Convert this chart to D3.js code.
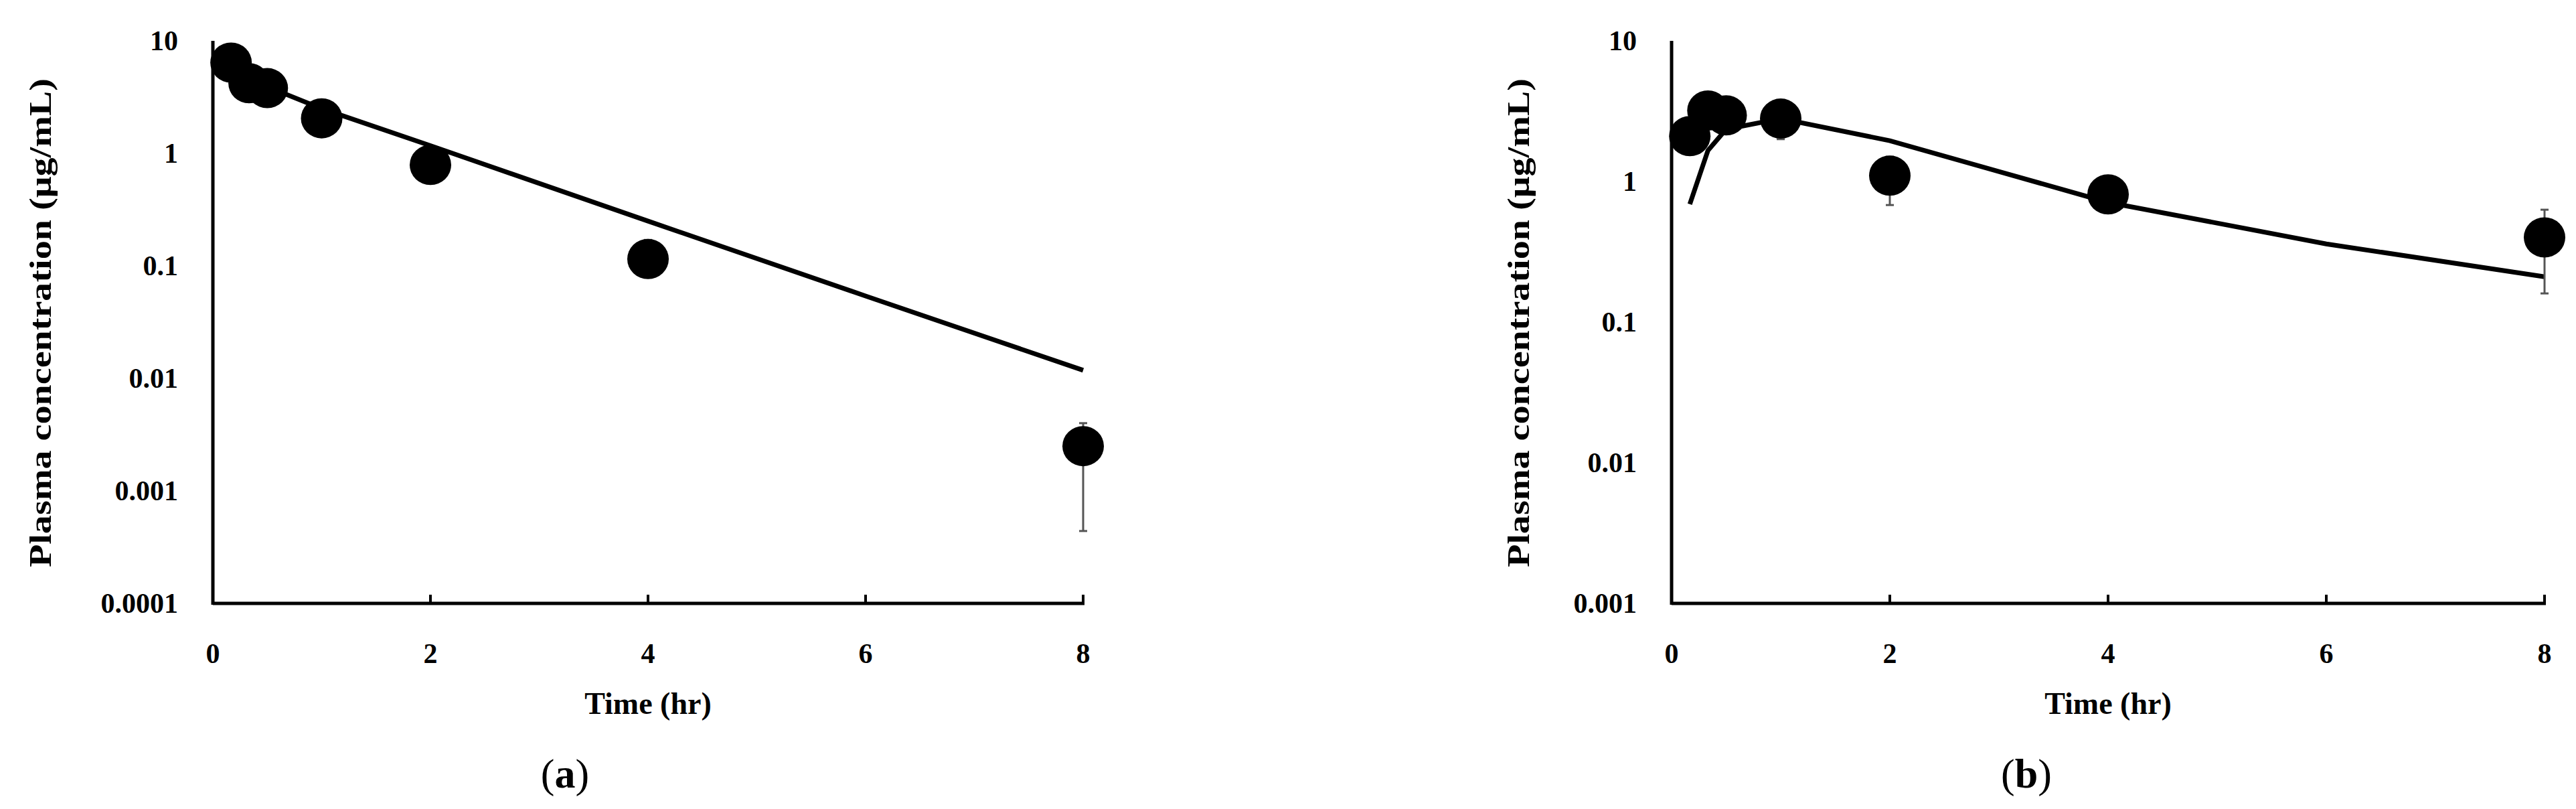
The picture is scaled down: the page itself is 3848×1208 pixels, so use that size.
<!DOCTYPE html>
<html>
<head>
<meta charset="utf-8">
<script src="https://cdn.jsdelivr.net/npm/d3@7"></script>
<style>
  body { margin: 0; background: #fff; }
  text { font-family: "Liberation Serif", "DejaVu Serif", serif; }
</style>
</head>
<body>
<div id="chart"></div>
<script>
// Panel (a) observed data
const timesA = [0.167, 0.333, 0.5, 1, 2, 4, 8];
const concA = [6.4, 4.2, 3.8, 2.05, 0.79, 0.115, 0.0025];
const errLowA = [6.0, 3.9, 3.5, 1.9, 0.72, 0.1, 0.00044];
const errHighA = [6.9, 4.5, 4.1, 2.2, 0.86, 0.17, 0.004];
// Panel (a) model line
const modelTimesA = [0.1, 1, 2, 4, 6, 8];
const modelConcA = [5.6, 2.5, 1.17, 0.25, 0.054, 0.0118];

// Panel (b) observed data
const timesB = [0.167, 0.333, 0.5, 1, 2, 4, 8];
const concB = [2.1, 3.2, 2.95, 2.8, 1.1, 0.81, 0.40];
const errLowB = [1.6, 2.9, 2.7, 2.0, 0.68, 0.75, 0.16];
const errHighB = [2.5, 3.5, 3.2, 3.6, 1.5, 0.88, 0.63];
// Panel (b) model line
const modelTimesB = [0.167, 0.333, 0.5, 1, 2, 4, 6, 8];
const modelConcB = [0.69, 1.66, 2.35, 2.8, 1.95, 0.71, 0.36, 0.21];

const xTicks = [0, 2, 4, 6, 8];
const yTicksA = [0.0001, 0.001, 0.01, 0.1, 1, 10];
const yTicksB = [0.001, 0.01, 0.1, 1, 10];

const svg = d3.select("#chart").append("svg")
  .attr("width", 3848).attr("height", 1208);

function panel(cfg) {
  const x = d3.scaleLinear().domain([0, 8]).range([cfg.left, cfg.right]);
  const y = d3.scaleLog().domain([cfg.yMin, 10]).range([901, 61]);
  const g = svg.append("g");

  // Model line
  const line = d3.line().x(d => x(d[0])).y(d => y(d[1]));
  g.append("path")
    .datum(d3.zip(cfg.modelT, cfg.modelC))
    .attr("d", line)
    .attr("fill", "none")
    .attr("stroke", "#000")
    .attr("stroke-width", 7);

  // Error bars
  const obs = cfg.t.map((t, i) => ({t, c: cfg.c[i], lo: cfg.lo[i], hi: cfg.hi[i]}));
  g.selectAll(".err").data(obs).enter().append("line")
    .attr("x1", d => x(d.t)).attr("x2", d => x(d.t))
    .attr("y1", d => y(d.lo)).attr("y2", d => y(d.hi))
    .attr("stroke", "#555").attr("stroke-width", 3);
  ["lo", "hi"].forEach(k => {
    g.selectAll(".cap" + k).data(obs).enter().append("line")
      .attr("x1", d => x(d.t) - 6).attr("x2", d => x(d.t) + 6)
      .attr("y1", d => y(d[k])).attr("y2", d => y(d[k]))
      .attr("stroke", "#555").attr("stroke-width", 3);
  });

  // Points
  g.selectAll(".pt").data(obs).enter().append("ellipse")
    .attr("cx", d => x(d.t)).attr("cy", d => y(d.c))
    .attr("rx", 31).attr("ry", 30)
    .attr("fill", "#000");

  // Axes
  g.append("line")
    .attr("x1", cfg.left).attr("x2", cfg.left)
    .attr("y1", 61).attr("y2", 903)
    .attr("stroke", "#000").attr("stroke-width", 5);
  g.append("line")
    .attr("x1", cfg.left).attr("x2", cfg.right + 2)
    .attr("y1", 901).attr("y2", 901)
    .attr("stroke", "#000").attr("stroke-width", 5);
  g.selectAll(".xt").data(xTicks.slice(1)).enter().append("line")
    .attr("x1", d => x(d)).attr("x2", d => x(d))
    .attr("y1", 888).attr("y2", 903)
    .attr("stroke", "#000").attr("stroke-width", 4);

  g.selectAll(".xl").data(xTicks).enter().append("text")
    .attr("x", d => x(d)).attr("y", 990)
    .attr("text-anchor", "middle")
    .style("font-size", "42px").style("font-weight", "bold")
    .text(d => d);
  g.selectAll(".yl").data(cfg.yTicks).enter().append("text")
    .attr("x", cfg.left - 52).attr("y", d => y(d) + 14)
    .attr("text-anchor", "end")
    .style("font-size", "42px").style("font-weight", "bold")
    .text(d => d3.format("~g")(d) === "0.0001" ? "0.0001" : String(+d));

  g.append("text")
    .attr("x", (cfg.left + cfg.right) / 2).attr("y", 1066)
    .attr("text-anchor", "middle")
    .style("font-size", "46px").style("font-weight", "bold")
    .text("Time (hr)");

  g.append("text")
    .attr("transform", `translate(${cfg.labelX},482) rotate(-90)`)
    .attr("text-anchor", "middle")
    .attr("textLength", 730).attr("lengthAdjust", "spacingAndGlyphs")
    .style("font-size", "46px").style("font-weight", "bold")
    .text("Plasma concentration (μg/mL)");

  const lab = g.append("text")
    .attr("x", cfg.tagX).attr("y", 1176)
    .attr("text-anchor", "middle")
    .style("font-size", "62px");
  lab.append("tspan").text("(");
  lab.append("tspan").style("font-weight", "bold").text(cfg.tag);
  lab.append("tspan").text(")");
}

panel({
  left: 318, right: 1618, yMin: 0.0001, yTicks: yTicksA,
  t: timesA, c: concA, lo: errLowA, hi: errHighA,
  modelT: modelTimesA, modelC: modelConcA,
  labelX: 76, tagX: 844, tag: "a"
});
panel({
  left: 2497, right: 3801, yMin: 0.001, yTicks: yTicksB,
  t: timesB, c: concB, lo: errLowB, hi: errHighB,
  modelT: modelTimesB, modelC: modelConcB,
  labelX: 2284, tagX: 3027, tag: "b"
});
</script>
</body>
</html>
